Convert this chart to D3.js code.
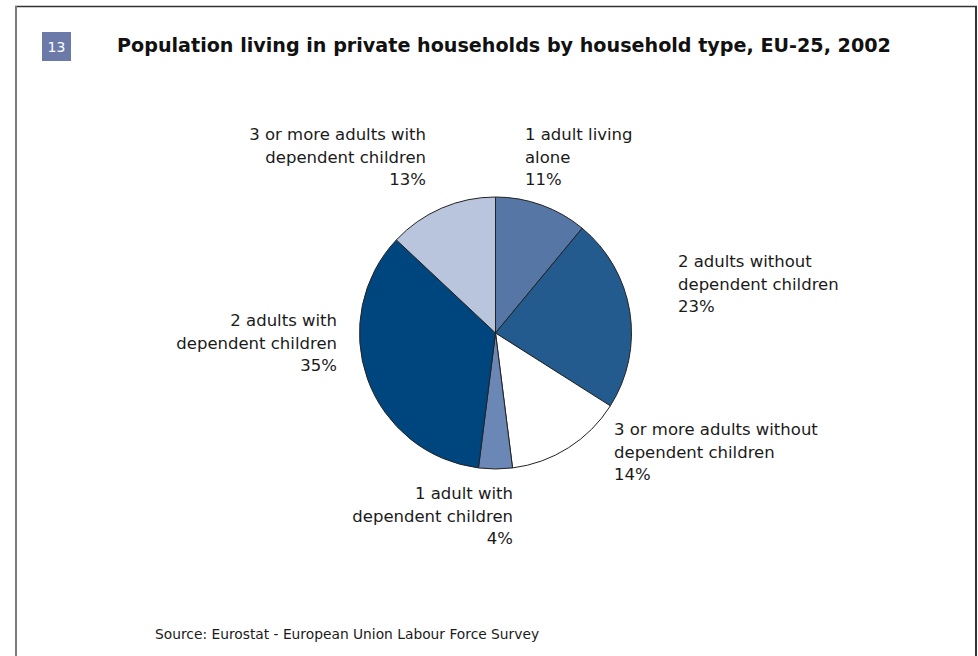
<!DOCTYPE html>
<html>
<head>
<meta charset="utf-8">
<script src="https://cdn.jsdelivr.net/npm/d3@7"></script>
<style>
  html, body { margin: 0; padding: 0; background: #fff; }
  svg { display: block; }
  text { font-family: "DejaVu Sans", Verdana, sans-serif; fill: #1a1a1a; }
</style>
</head>
<body>
<svg id="chart" width="978" height="656"></svg>
<script>
// Household types, in drawing order (clockwise from 12 o'clock)
const categories = [
  "1 adult living alone",
  "2 adults without dependent children",
  "3 or more adults without dependent children",
  "1 adult with dependent children",
  "2 adults with dependent children",
  "3 or more adults with dependent children"
];
// Share of population, %
const shares = [11, 23, 14, 4, 35, 13];
// Label lines for each slice (the percentage is appended as the last line)
const labelLines = [
  ["1 adult living", "alone"],
  ["2 adults without", "dependent children"],
  ["3 or more adults without", "dependent children"],
  ["1 adult with", "dependent children"],
  ["2 adults with", "dependent children"],
  ["3 or more adults with", "dependent children"]
];
const sliceColors = ["#5677a6", "#245b8e", "#ffffff", "#6a87b5", "#00467e", "#b9c4dd"];

const title = "Population living in private households by household type, EU-25, 2002";
const figureNumber = "13";
const sourceNote = "Source: Eurostat - European Union Labour Force Survey";

const svg = d3.select("#chart");

// Frame
svg.append("line").attr("x1", 15).attr("x2", 977).attr("y1", 6.5).attr("y2", 6.5)
  .attr("stroke", "#333").attr("stroke-width", 1.5);
svg.append("line").attr("x1", 16).attr("x2", 16).attr("y1", 6).attr("y2", 656)
  .attr("stroke", "#7a7a7a").attr("stroke-width", 2);
svg.append("line").attr("x1", 976).attr("x2", 976).attr("y1", 6).attr("y2", 656)
  .attr("stroke", "#333").attr("stroke-width", 2);

// Figure number badge
svg.append("rect").attr("x", 42).attr("y", 32).attr("width", 29).attr("height", 29)
  .attr("fill", "#6b7aa8");
svg.append("text").attr("x", 56.5).attr("y", 51.5).attr("text-anchor", "middle")
  .style("font-size", "14px").style("fill", "#fff").text(figureNumber);

// Title
svg.append("text").attr("x", 117).attr("y", 52)
  .style("font-size", "19.15px").style("font-weight", "bold").style("fill", "#111")
  .text(title);

// Pie
const cx = 495.5, cy = 333, radius = 136;
const pie = d3.pie().sort(null).value(d => d)(shares);
const arc = d3.arc().innerRadius(0).outerRadius(radius);
const color = d3.scaleOrdinal().domain(categories).range(sliceColors);

const g = svg.append("g").attr("transform", `translate(${cx},${cy})`);
g.selectAll("path").data(pie).join("path")
  .attr("d", arc)
  .attr("fill", (d, i) => color(categories[i]))
  .attr("stroke", "#222")
  .attr("stroke-width", 1);

// Slice labels: anchor point and alignment
const labelPos = [
  { x: 525, y: 140, anchor: "start" },
  { x: 678, y: 267, anchor: "start" },
  { x: 614, y: 435, anchor: "start" },
  { x: 513, y: 499, anchor: "end" },
  { x: 337, y: 326, anchor: "end" },
  { x: 426, y: 140, anchor: "end" }
];
const lineHeight = 22.5;
shares.forEach((v, i) => {
  const p = labelPos[i];
  const t = svg.append("text").attr("x", p.x).attr("y", p.y)
    .attr("text-anchor", p.anchor).style("font-size", "16.5px");
  labelLines[i].concat([v + "%"]).forEach((line, k) => {
    t.append("tspan").attr("x", p.x).attr("y", p.y + k * lineHeight).text(line);
  });
});

// Source
svg.append("text").attr("x", 155).attr("y", 639)
  .style("font-size", "13.8px").text(sourceNote);
</script>
</body>
</html>
